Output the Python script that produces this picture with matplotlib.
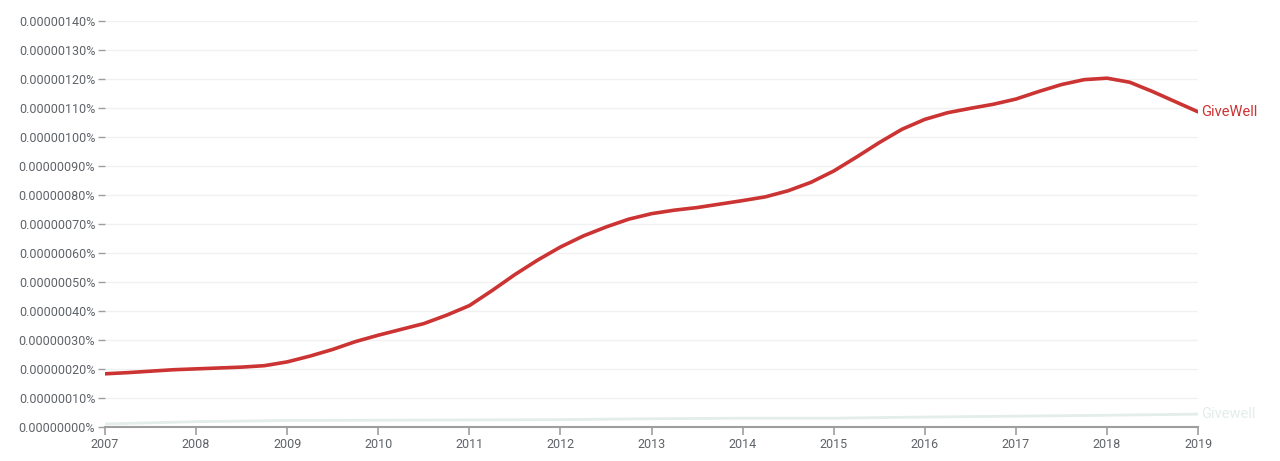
import matplotlib
matplotlib.use("Agg")
import matplotlib.pyplot as plt
from matplotlib.ticker import FuncFormatter

plt.rcParams["font.family"] = ["Roboto", "DejaVu Sans"]

# values in units of 1e-8 percent, read every quarter year
years_main = [2007 + q / 4 for q in range(49)]
givewell_main = [
    18.3, 18.7, 19.2, 19.7,
    20.0, 20.3, 20.6, 21.1,
    22.4, 24.4, 26.7, 29.4,
    31.6, 33.6, 35.6, 38.5,
    41.8, 47.0, 52.5, 57.5,
    62.0, 65.8, 68.9, 71.6,
    73.5, 74.7, 75.6, 76.8,
    78.0, 79.3, 81.4, 84.3,
    88.2, 93.0, 98.0, 102.6,
    106.0, 108.3, 109.8, 111.2,
    113.0, 115.6, 118.0, 119.7,
    120.2, 118.8, 115.6, 112.1,
    108.6,
]

years_lower = [2007, 2008, 2009, 2010, 2011, 2012, 2013, 2014, 2015, 2016, 2017, 2018, 2019]
givewell_lower = [1.0, 1.8, 2.2, 2.3, 2.4, 2.5, 2.8, 3.0, 3.0, 3.4, 3.7, 4.0, 4.4]

y_ticks = list(range(0, 141, 10))
x_ticks = list(range(2007, 2020))

red = "#cc3333"
faint = "#e3ede9"
gray_text = "#5f6368"

fig = plt.figure(figsize=(12.8, 4.61), dpi=100)
ax = fig.add_axes([0.082, 0.074, 0.854, 0.881])

ax.plot(years_lower, givewell_lower, color=faint, lw=2, solid_capstyle="round")
ax.plot(years_main, givewell_main, color=red, lw=2.6, solid_capstyle="round",
        solid_joinstyle="round")

ax.text(years_main[-1] + 0.03, givewell_main[-1], "GiveWell", color=red,
        fontsize=10.5, va="center", ha="left")
ax.text(years_lower[-1] + 0.03, givewell_lower[-1], "Givewell", color=faint,
        fontsize=10.5, va="center", ha="left")

ax.set_xlim(2007, 2019)
ax.set_ylim(0, 140)
ax.set_xticks(x_ticks)
ax.set_yticks(y_ticks)
ax.yaxis.set_major_formatter(FuncFormatter(lambda v, p: f"{v * 1e-8:.8f}%"))

ax.grid(axis="y", color="#f1f1f1", lw=1)
ax.set_axisbelow(True)
for s in ["top", "right", "left"]:
    ax.spines[s].set_visible(False)
ax.spines["bottom"].set_color("#9e9e9e")
ax.spines["bottom"].set_linewidth(1.5)

ax.tick_params(axis="y", length=5, width=1, color="#9e9e9e", labelcolor=gray_text,
               labelsize=9, pad=2)
ax.tick_params(axis="x", length=6, width=1.2, color="#9e9e9e", labelcolor=gray_text,
               labelsize=9, pad=2)

fig.savefig("out.png", dpi=100)
